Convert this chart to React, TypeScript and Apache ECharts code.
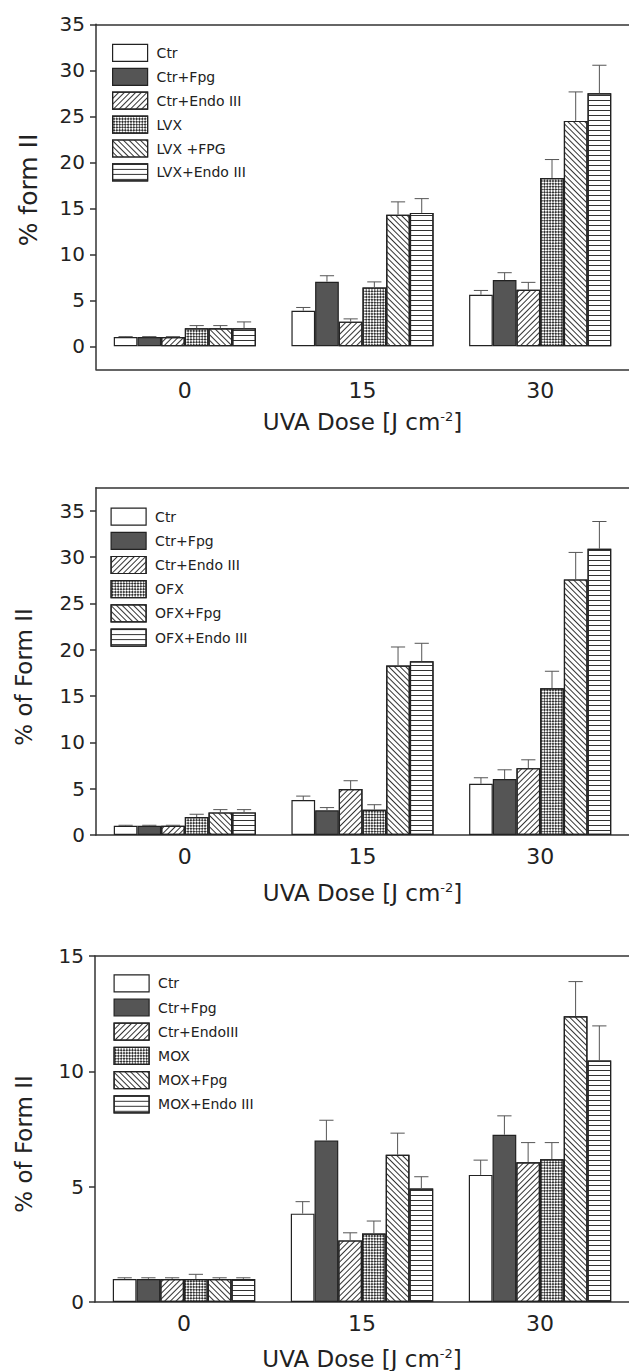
import React, { useEffect, useRef } from "react";
import * as echarts from "echarts";

// ---------- data ----------
const doses = ["0", "15", "30"];

// Panel A (levofloxacin)
const namesA = ["Ctr", "Ctr+Fpg", "Ctr+Endo III", "LVX", "LVX +FPG", "LVX+Endo III"];
const valuesA = [
  [1.0, 3.87, 5.6],
  [1.0, 7.02, 7.2],
  [1.0, 2.68, 6.15],
  [1.95, 6.4, 18.3],
  [1.95, 14.3, 24.5],
  [1.95, 14.5, 27.5],
];
const errorsA = [
  [0.05, 0.35, 0.47],
  [0.05, 0.65, 0.8],
  [0.05, 0.3, 0.8],
  [0.3, 0.6, 2.0],
  [0.3, 1.4, 3.15],
  [0.7, 1.55, 3.05],
];
const majorA = [0, 5, 10, 15, 20, 25, 30, 35];
const minorA = [2.5, 7.5, 12.5, 17.5, 22.5, 27.5, 32.5];

// Panel B (ofloxacin)
const namesB = ["Ctr", "Ctr+Fpg", "Ctr+Endo III", "OFX", "OFX+Fpg", "OFX+Endo III"];
const valuesB = [
  [1.0, 3.77, 5.53],
  [1.0, 2.66, 6.04],
  [1.0, 4.96, 7.22],
  [1.94, 2.73, 15.85],
  [2.44, 18.3, 27.6],
  [2.44, 18.76, 30.9],
];
const errorsB = [
  [0.05, 0.43, 0.65],
  [0.05, 0.3, 1.0],
  [0.05, 0.9, 0.9],
  [0.3, 0.54, 1.83],
  [0.3, 2.0, 2.91],
  [0.3, 1.94, 2.95],
];
const majorB = [0, 5, 10, 15, 20, 25, 30, 35];
const minorB = [2.5, 7.5, 12.5, 17.5, 22.5, 27.5, 32.5];

// Panel C (moxifloxacin)
const namesC = ["Ctr", "Ctr+Fpg", "Ctr+EndoIII", "MOX", "MOX+Fpg", "MOX+Endo III"];
const valuesC = [
  [1.0, 3.83, 5.51],
  [1.0, 7.0, 7.25],
  [1.0, 2.67, 6.06],
  [1.0, 2.97, 6.19],
  [1.0, 6.38, 12.39],
  [1.0, 4.92, 10.47],
];
const errorsC = [
  [0.05, 0.52, 0.64],
  [0.05, 0.88, 0.82],
  [0.05, 0.33, 0.85],
  [0.2, 0.54, 0.72],
  [0.05, 0.94, 1.5],
  [0.05, 0.51, 1.5],
];
const majorC = [0, 5, 10, 15];
const minorC = [2.5, 7.5, 12.5];

// ---------- styles ----------
const FONT = '"DejaVu Sans", sans-serif';
const INK = "#222";
const AXIS = "#333";
const CAT_GAP = 0.2;
const GRID_W = 538.5;

const fills = ["#ffffff", "#555555", "#ffffff", "#ffffff", "#ffffff", "#ffffff"];
const decals: any[] = [
  "none",
  "none",
  { symbol: "rect", color: "#333", dashArrayX: [1, 0], dashArrayY: [1, 3], rotation: -Math.PI / 4 },
  { symbol: "rect", color: "#333", dashArrayX: [[2, 2], [0, 2, 2, 0]], dashArrayY: [2, 0], rotation: Math.PI / 4 },
  { symbol: "rect", color: "#333", dashArrayX: [1, 0], dashArrayY: [1, 3], rotation: Math.PI / 4 },
  { symbol: "rect", color: "#333", dashArrayX: [1, 0], dashArrayY: [1, 4], rotation: 0 },
];

const panels = [
  {
    names: namesA, values: valuesA, errors: errorsA, major: majorA, minor: minorA,
    yMin: -2.5, yMax: 35, left: 96, top: 24.3, height: 345,
    legendLeft: 112, legendTop: 43.8, legendGap: 5.7,
    yTitle: "% form II", yTitleX: 28, yTitleY: 190, yTitleSize: 25,
    xNameGap: 41, yLabelSize: 20,
  },
  {
    names: namesB, values: valuesB, errors: errorsB, major: majorB, minor: minorB,
    yMin: 0, yMax: 37.5, left: 96, top: 487.7, height: 347.3,
    legendLeft: 110.5, legendTop: 507.5, legendGap: 6,
    yTitle: "% of Form II", yTitleX: 24, yTitleY: 677, yTitleSize: 23,
    xNameGap: 46, yLabelSize: 20,
  },
  {
    names: namesC, values: valuesC, errors: errorsC, major: majorC, minor: minorC,
    yMin: 0, yMax: 15, left: 95, top: 956, height: 346.3,
    legendLeft: 113.5, legendTop: 974.2, legendGap: 6,
    yTitle: "% of Form II", yTitleX: 24, yTitleY: 1144, yTitleSize: 23,
    xNameGap: 45, yLabelSize: 20,
  },
];

function buildOption() {
  const grid: any[] = [];
  const xAxis: any[] = [];
  const yAxis: any[] = [];
  const series: any[] = [];
  const legend: any[] = [];
  const graphic: any[] = [];
  const axisLine = { show: true, onZero: false, lineStyle: { color: AXIS, width: 1.5 } };

  panels.forEach((p, i) => {
    grid.push({ left: p.left, top: p.top, width: GRID_W, height: p.height });
    xAxis.push({
      type: "category", gridIndex: i, data: doses, position: "bottom",
      axisLine, axisTick: { show: false },
      axisLabel: { fontFamily: FONT, fontSize: 22, color: INK, margin: 10 },
      name: "UVA Dose [J cm{sup|-2}]", nameLocation: "middle", nameGap: p.xNameGap,
      nameTextStyle: {
        fontFamily: FONT, fontSize: 23, color: INK,
        rich: { sup: { fontFamily: FONT, fontSize: 13, color: INK, verticalAlign: "top" } },
      },
    });
    xAxis.push({
      type: "category", gridIndex: i, data: doses, position: "top",
      axisLine, axisTick: { show: false }, axisLabel: { show: false },
    });
    yAxis.push({
      type: "value", gridIndex: i, min: p.yMin, max: p.yMax,
      axisLine,
      axisTick: { show: true, customValues: p.major, length: 6, lineStyle: { color: AXIS, width: 1.5 } },
      axisLabel: { customValues: p.major, fontFamily: FONT, fontSize: p.yLabelSize, color: INK, margin: 11 },
      splitLine: { show: false },
    });
    yAxis.push({
      type: "value", gridIndex: i, min: p.yMin, max: p.yMax,
      axisLine: { show: false },
      axisTick: { show: true, customValues: p.minor, length: 3, lineStyle: { color: AXIS, width: 1.5 } },
      axisLabel: { show: false },
      splitLine: { show: false },
    });

    p.names.forEach((name, s) => {
      series.push({
        type: "bar", name, xAxisIndex: 2 * i, yAxisIndex: 2 * i,
        data: p.values[s], barGap: "0%", barCategoryGap: `${CAT_GAP * 100}%`,
        itemStyle: { color: fills[s], borderColor: INK, borderWidth: 1.2, decal: decals[s] },
        emphasis: { disabled: true },
      });
    });

    const errData: number[][] = [];
    p.values.forEach((arr, s) => arr.forEach((v, c) => errData.push([c, s, v, p.errors[s][c]])));
    const n = p.names.length;
    series.push({
      type: "custom", name: `err${i}`, xAxisIndex: 2 * i, yAxisIndex: 2 * i, z: 5, silent: true,
      encode: { x: 0, y: 2 },
      data: errData,
      renderItem: (params: any, api: any) => {
        const c = api.value(0), s = api.value(1), v = api.value(2), e = api.value(3);
        const base = api.coord([c, v]);
        const top = api.coord([c, v + e]);
        const band = api.size([1, 0])[0];
        const bw = (band * (1 - CAT_GAP)) / n;
        const x = base[0] + (s - (n - 1) / 2) * bw;
        const half = bw * 0.3;
        const st = { stroke: "#555", lineWidth: 1 };
        return {
          type: "group",
          children: [
            { type: "line", shape: { x1: x, y1: base[1], x2: x, y2: top[1] }, style: st },
            { type: "line", shape: { x1: x - half, y1: top[1], x2: x + half, y2: top[1] }, style: st },
          ],
        };
      },
    });

    legend.push({
      data: p.names, left: p.legendLeft, top: p.legendTop, orient: "vertical",
      itemWidth: 35, itemHeight: 17, itemGap: p.legendGap, icon: "rect", padding: 0,
      selectedMode: false,
      textStyle: { fontFamily: FONT, fontSize: 14, color: INK, padding: [0, 0, 0, 4] },
      itemStyle: { borderColor: INK, borderWidth: 1.2 },
    });

    graphic.push({
      type: "text", x: p.yTitleX, y: p.yTitleY, rotation: Math.PI / 2,
      style: {
        text: p.yTitle, fontFamily: FONT, fontSize: p.yTitleSize, fill: INK,
        align: "center", verticalAlign: "middle",
      },
    });
  });

  return {
    animation: false,
    backgroundColor: "#ffffff",
    grid, xAxis, yAxis, series, legend, graphic,
  };
}

export default function App() {
  const ref = useRef<HTMLDivElement>(null);
  useEffect(() => {
    document.body.style.margin = "0";
    if (!ref.current) return;
    const chart = echarts.init(ref.current, undefined, { renderer: "svg" });
    chart.setOption(buildOption() as any);
    return () => chart.dispose();
  }, []);
  return (
    <div
      ref={ref}
      style={{ position: "absolute", left: 0, top: 0, width: 629, height: 1371, overflow: "hidden", background: "#fff" }}
    />
  );
}
